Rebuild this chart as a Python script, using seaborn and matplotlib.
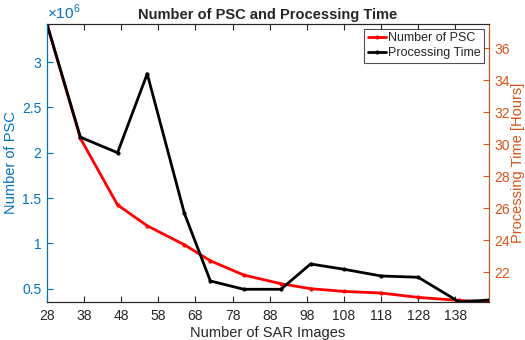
import matplotlib
matplotlib.use("Agg")
import matplotlib.pyplot as plt
import pandas as pd
import seaborn as sns
from matplotlib.ticker import FuncFormatter

# Values
num_images = [28, 37, 47, 55, 65, 72, 81, 91, 99, 108, 118, 128, 139, 147]
num_psc = [3.42, 2.16, 1.425, 1.194, 0.985, 0.808, 0.651, 0.555, 0.50, 0.47, 0.452, 0.404, 0.37, 0.354]  # x 1e6
proc_hours = [37.5, 30.44, 29.47, 34.4, 25.69, 21.46, 20.94, 20.94, 22.52, 22.19, 21.77, 21.69, 20.15, 20.27]
x_ticks = list(range(28, 139, 10))
psc_ticks = [0.5, 1, 1.5, 2, 2.5, 3]
hour_ticks = [22, 24, 26, 28, 30, 32, 34, 36]

blue = "#0072BD"
orange = "#D95319"
dark = "#262626"

df = pd.DataFrame({
    "images": num_images,
    "psc": num_psc,
    "hours": proc_hours,
})

sns.set_style("ticks")
plt.rcParams["font.family"] = ["Liberation Sans", "DejaVu Sans"]
plt.rcParams["mathtext.fontset"] = "custom"
plt.rcParams["mathtext.rm"] = "Liberation Sans"

fig, ax = plt.subplots(figsize=(5.25, 3.4), dpi=100)
fig.subplots_adjust(left=0.0895, right=0.931, bottom=0.112, top=0.929)

sns.lineplot(data=df, x="images", y="psc", ax=ax, color="red", lw=2,
             marker=".", markersize=6, markeredgewidth=0, legend=False)
ax2 = ax.twinx()
sns.lineplot(data=df, x="images", y="hours", ax=ax2, color="black", lw=2,
             marker=".", markersize=6, markeredgewidth=0, legend=False)

ax.set_xlim(min(num_images), max(num_images))
ax.set_ylim(df["psc"].min(), df["psc"].max())
ax2.set_ylim(df["hours"].min(), df["hours"].max())

ax.set_xticks(x_ticks)
ax.set_yticks(psc_ticks)
ax2.set_yticks(hour_ticks)
ax.yaxis.set_major_formatter(FuncFormatter(lambda v, p: f"{v:g}"))

# exponent marker like the reference
ax.text(0.0, 1.008, r"$\times10^{6}$", transform=ax.transAxes, color=blue,
        fontsize=11, ha="left", va="bottom")

ax.tick_params(axis="x", direction="in", top=True, length=4, colors=dark, labelsize=10, pad=5)
ax.tick_params(axis="y", direction="in", length=4, colors=blue, labelsize=10, pad=4)
ax2.tick_params(axis="y", direction="in", length=4, colors=orange, labelsize=10, pad=4)

for a in (ax, ax2):
    a.spines["top"].set_color(dark)
    a.spines["bottom"].set_color(dark)
    a.spines["left"].set_color(blue)
    a.spines["right"].set_color(orange)
    for s in a.spines.values():
        s.set_linewidth(0.8)

ax.set_xlabel("Number of SAR Images", fontsize=10.5, color=dark, labelpad=2)
ax.set_ylabel("Number of PSC", fontsize=10.5, color=blue, labelpad=3)
ax2.set_ylabel("Processing Time [Hours]", fontsize=10.5, color=orange, labelpad=1)
ax.set_title("Number of PSC and Processing Time", fontsize=10.5, fontweight="bold", pad=4)

handles = [ax.get_lines()[0], ax2.get_lines()[0]]
labels = ["Number of PSC", "Processing Time"]
leg = ax2.legend(handles, labels, loc="upper right", fontsize=9, frameon=True,
                 fancybox=False, edgecolor=dark, borderpad=0.3, labelspacing=0.25,
                 handlelength=1.4, handletextpad=0.2, borderaxespad=0.35)
leg.get_frame().set_linewidth(0.8)

plt.savefig("out.png", dpi=100)
plt.close()
